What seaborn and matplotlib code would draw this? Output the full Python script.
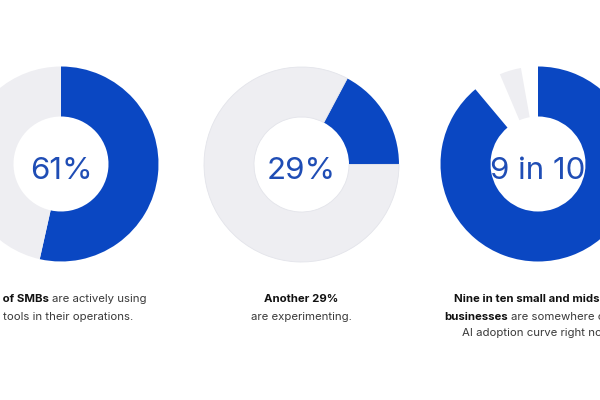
import numpy as np
import pandas as pd
import matplotlib
matplotlib.use("Agg")
from matplotlib import pyplot as plt
import seaborn as sns

# values (share of the ring, clockwise from the start angle)
centre_labels = ["61%", "29%", "9 in 10"]
left_shares = [0.535, 0.465]
left_kinds = ["blue", "grey"]
middle_shares = [0.172, 0.828]
middle_kinds = ["blue", "grey"]
right_shares = [0.889, 0.047, 0.036, 0.028]
right_kinds = ["blue", "gap", "grey", "gap"]
start_angles = [90, 62, 90]

caption_left = [[("61% of SMBs", True), ("are actively using", False)],
                [("AI tools in their operations.", False)]]
caption_middle = [[("Another 29%", True)],
                  [("are experimenting.", False)]]
caption_right = [[("Nine in ten small and midsized", True)],
                 [("businesses", True), ("are somewhere on the", False)],
                 [("AI adoption curve right now.", False)]]

colours = {"blue": "#0A47C2", "grey": "#EEEEF2", "gap": (1, 1, 1, 0)}
outline = ["none", "#E3E4EA", "none"]

sns.set_theme(style="white")
plt.rcParams['font.family'] = ['Inter', 'DejaVu Sans']

W, H = 600, 400
fig = plt.figure(figsize=(6, 4), dpi=100)
fig.patch.set_facecolor("white")
renderer = fig.canvas.get_renderer()

# donut centres in pixels (x from left, y from top)
centres = [(61, 164), (301.5, 164.5), (538, 164)]
shares = [left_shares, middle_shares, right_shares]
kinds = [left_kinds, middle_kinds, right_kinds]
captions = [caption_left, caption_middle, caption_right]

FS = 8.2
space_w = None


def put_line(cx, y, parts):
    global space_w
    if space_w is None:
        a = fig.text(0, 0, "a a", fontsize=FS)
        b = fig.text(0, 0, "aa", fontsize=FS)
        space_w = a.get_window_extent(renderer).width - b.get_window_extent(renderer).width
        a.remove()
        b.remove()
    items = []
    for txt, bold in parts:
        t = fig.text(0, 1 - y / H, txt, fontsize=FS,
                     fontweight='bold' if bold else 'normal',
                     color='#111111' if bold else '#3a3a3a',
                     ha='left', va='baseline')
        items.append((t, t.get_window_extent(renderer).width))
    total = sum(w for _, w in items) + space_w * (len(items) - 1)
    x = cx - total / 2
    for t, w in items:
        t.set_x(x / W)
        x += w + space_w


for (cx, cy), vals, kk, sa, ec, label, cap in zip(centres, shares, kinds, start_angles,
                                                  outline, centre_labels, captions):
    ax = fig.add_axes([(cx - 100) / W, 1 - (cy + 100) / H, 200 / W, 200 / H])
    wedges, _ = ax.pie(vals, colors=[colours[k] for k in kk], startangle=sa,
                       counterclock=False, radius=0.975,
                       wedgeprops=dict(width=0.5, linewidth=0.6))
    for w, k in zip(wedges, kk):
        w.set_edgecolor(ec if k == "grey" else "none")
    ax.set_xlim(-1, 1)
    ax.set_ylim(-1, 1)
    ax.axis('off')
    ax.text(0, -(179 - cy) / 100, label, ha='center', va='baseline',
            fontsize=22.5, color='#1F4DB5')
    for i, line in enumerate(cap):
        put_line(cx, 302.5 + 17 * i, line)

fig.savefig("out.png", dpi=100, facecolor="white")
